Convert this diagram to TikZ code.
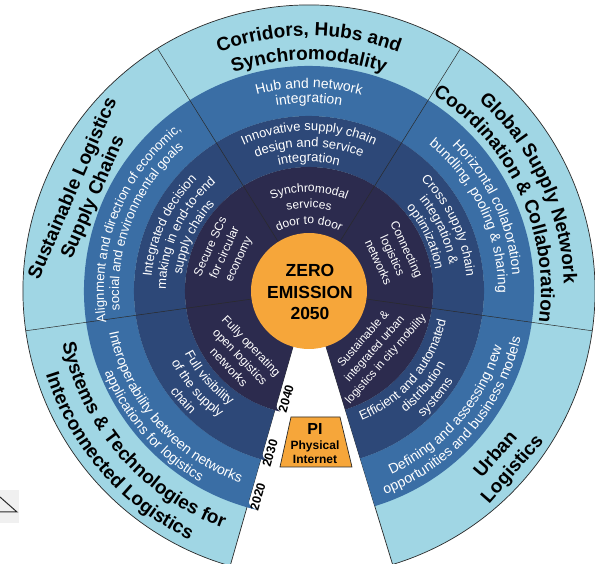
\documentclass[tikz,border=0pt]{standalone}
\usepackage{fontspec}
\setmainfont{Liberation Sans}
\usetikzlibrary{decorations.text}
\definecolor{lb}{HTML}{A0D6E4}
\definecolor{mb}{HTML}{3A6EA5}
\definecolor{db}{HTML}{2D4878}
\definecolor{kb}{HTML}{2C2B4E}
\definecolor{og}{HTML}{F6A63A}
\definecolor{ln}{HTML}{2A2A2A}
\newcommand\fT{\fontsize{19}{21}\selectfont\bfseries}
\newcommand\fM{\fontsize{14}{16}\selectfont\color{white}}
\newcommand\fMs{\fontsize{13.2}{15}\selectfont\color{white}}
\newcommand\fD{\fontsize{13}{15}\selectfont\color{white}}
\newcommand\fK{\fontsize{12}{14}\selectfont\color{white}}
\newcommand\cwtext[4]{\path[decorate,decoration={text along path,text align=center,text={|#3|#4}}] ({#2+80}:#1) arc[start angle={#2+80},end angle={#2-80},radius=#1pt];}
\newcommand\ccwtext[4]{\path[decorate,decoration={text along path,text align=center,text={|#3|#4}}] ({#2-80}:#1) arc[start angle={#2-80},end angle={#2+80},radius=#1pt];}
\newcommand\ringpath[2]{(254:#1) -- (254:{#2-6}) .. controls (254.6:{#2-2}) .. (256.5:#2) arc[start angle=256.5,end angle=-73,radius=#2pt] -- (-73:#1) arc[start angle=-73,end angle=254,radius=#1pt] -- cycle}
\tikzset{
  divider/.style={draw=ln,line width=0.5pt},
  kt/.style={text=white,align=center,inner sep=0pt,font=\fontsize{12}{15.5}\selectfont},
  tt/.style={text=black,align=center,inner sep=0pt,font=\fontsize{19}{22}\selectfont\bfseries},
  yr/.style={text=black,inner sep=0pt,font=\fontsize{12.5}{14}\selectfont\bfseries},
}
\begin{document}
\begin{tikzpicture}[x=1pt,y=1pt]
\useasboundingbox (-309,-273) rectangle (286,291);
\fill[white] (-309,-273) rectangle (286,291);
\clip (-309,-273) rectangle (286,291);
% artifact at left edge
\fill[gray!12] (-309,-199) rectangle (-290,-232);
\draw[line width=1pt,ln] (-309,-206) -- (-292,-221) -- (-309,-221);
% rings
\filldraw[fill=lb,draw=ln,line width=0.7pt] (0,0) -- (-73:286) arc[start angle=-73,end angle=254,radius=286pt] -- cycle;
\fill[mb] \ringpath{175}{225};
\fill[db] \ringpath{124}{175};
\fill[kb] \ringpath{40}{124};
% dividers
\draw[divider] (58:58) -- (58:286);
\draw[divider] (122:58) -- (122:286);
\draw[divider] (188:58) -- (188:286);
\draw[divider] (-8:58) -- (-8:286);
% centre
\fill[og] (0,0) circle[radius=58pt];
\node[align=center,inner sep=0pt,font=\fontsize{17.5}{21.5}\selectfont\bfseries] (zero) at (1,-1) {ZERO\\EMISSION\\2050};
% titles
\cwtext{255}{90}{\fT}{Corridors, Hubs and}
\cwtext{231}{90}{\fT}{Synchromodality}
\cwtext{255}{25}{\fT}{Global Supply Network}
\cwtext{232}{25}{\fT}{Coordination {\&} Collaboration}
\ccwtext{252}{221}{\fT}{Systems {\&} Technologies for}
\ccwtext{276}{221}{\fT}{Interconnected Logistics}
\node[tt,rotate=66.5] (sust) at (156.5:246) {Sustainable Logistics\\Supply Chains};
\node[tt,rotate=48.8] (urban) at (-41.2:260) {Urban\\Logistics};
% medium ring
\cwtext{203}{90}{\fM}{Hub and network}
\cwtext{188}{90}{\fM}{integration}
\cwtext{204}{25}{\fM}{Horizontal collaboration}
\cwtext{189}{25}{\fM}{bundling, pooling {\&} sharing}
\cwtext{205}{158.5}{\fMs}{Alignment and direction of economic,}
\cwtext{190}{158.5}{\fMs}{social and environmental goals}
\ccwtext{204}{221}{\fM}{Interoperability between networks}
\ccwtext{220}{221}{\fM}{applications for logistics}
\ccwtext{201}{-41}{\fM}{Defining and assessing new}
\ccwtext{217}{-41}{\fM}{opportunities and business models}
% dark ring
\cwtext{160}{90}{\fD}{Innovative supply chain}
\cwtext{144}{90}{\fD}{design and service}
\cwtext{129}{90}{\fD}{integration}
\cwtext{158}{25}{\fD}{Cross supply chain}
\cwtext{143}{25}{\fD}{integration {\&}}
\cwtext{128}{25}{\fD}{optimization}
\cwtext{158}{155}{\fD}{Integrated decision}
\cwtext{143}{155}{\fD}{making in end-to-end}
\cwtext{128}{155}{\fD}{supply chains}
\ccwtext{139}{221}{\fD}{Full visibility}
\ccwtext{155}{221}{\fD}{of the supply}
\ccwtext{171}{221}{\fD}{chain}
\ccwtext{140}{-40}{\fD}{Efficient and automated}
\ccwtext{155}{-40}{\fD}{distribution}
\ccwtext{170}{-40}{\fD}{systems}
% darkest ring
\cwtext{99}{90}{\fK}{Synchromodal}
\cwtext{83}{90}{\fK}{services}
\cwtext{67}{90}{\fK}{door to door}
\node[kt,rotate=65.7] (secure) at (155.7:92) {Secure SCs\\for circular\\economy};
\node[kt,rotate=-65] (connect) at (23:91) {Connecting\\logistics\\networks};
\node[kt,rotate=313.7] (fully) at (223.7:95) {Fully operating\\open logistics\\networks};
\node[kt,rotate=48.5,font=\fontsize{11.5}{15}\selectfont] (urbmob) at (-41.5:88) {Sustainable \&\\integrated urban\\logistics in city mobility};
% years
\node[yr,rotate=74] (y40) at (258:110) {2040};
\node[yr,rotate=74] (y30) at (256.5:167) {2030};
\node[yr,rotate=74] (y20) at (256:212) {2020};
% PI box
\draw[fill=og,draw=ln,line width=0.7pt] (-18,-126) -- (31,-126) -- (43,-176) -- (-29,-176) -- cycle;
\node[inner sep=0pt,font=\fontsize{16}{18}\selectfont\bfseries] (pi) at (6,-138) {PI};
\node[align=center,inner sep=0pt,font=\fontsize{12}{13.5}\selectfont\bfseries] (phys) at (6,-161) {Physical\\Internet};
\end{tikzpicture}
\end{document}
